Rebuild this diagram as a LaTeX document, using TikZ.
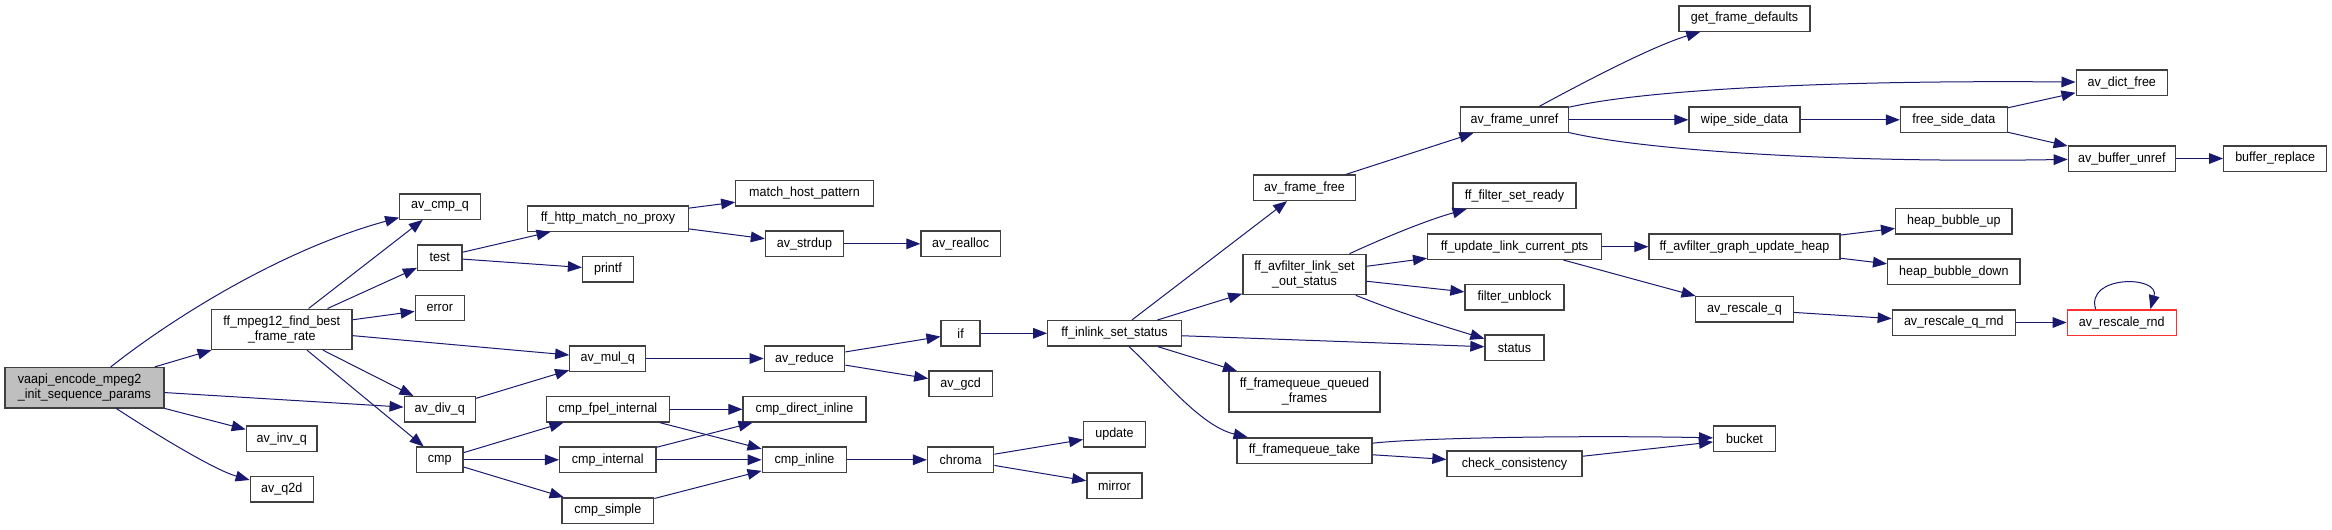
\documentclass[tikz,border=0pt]{standalone}
\usepackage{fontspec}
\setmainfont{Liberation Sans}[FakeStretch=0.94]
\usetikzlibrary{arrows.meta}
\definecolor{edgec}{HTML}{191970}
\definecolor{nodeb}{HTML}{404040}
\definecolor{rootfill}{HTML}{BFBFBF}
\definecolor{hot}{HTML}{FF3030}
\begin{document}
\begin{tikzpicture}[x=0.75pt,y=-0.75pt,
  fn/.style={draw=nodeb,line width=1pt,fill=white,inner sep=0pt,minimum height=19pt,
    font=\fontsize{10}{11.25}\selectfont,align=center},
  two/.style={minimum height=30.2pt},
  w/.style={minimum width=#1*0.75pt},
  edge/.style={draw=edgec,line width=0.75pt,-{Triangle[length=10.5pt,width=8pt]}}]
\fill[white] (0,0) rectangle (2332,529);
\useasboundingbox (0,0) rectangle (2332,529);
% rank 0-1
\node[fn,w=159,two,fill=rootfill,align=left] (vaapi) at (84.5,387.7) {vaapi\_encode\_mpeg2\\\_init\_sequence\_params};
\node[fn,w=140.3,two] (mpeg12) at (281.8,329.3) {ff\_mpeg12\_find\_best\\\_frame\_rate};
\node[fn,w=70.7] (invq) at (281.7,438.7) {av\_inv\_q};
\node[fn,w=63] (q2d) at (281.8,489.3) {av\_q2d};
% rank 2
\node[fn,w=80.4] (cmpq) at (440,206.5) {av\_cmp\_q};
\node[fn,w=44.4] (test) at (439.8,257.5) {test};
\node[fn,w=49] (error) at (439.8,308) {error};
\node[fn,w=71.2] (divq) at (439.8,409.3) {av\_div\_q};
\node[fn,w=46.6] (cmp) at (439.8,459.8) {cmp};
% rank 3
\node[fn,w=160.8] (http) at (608,218.5) {ff\_http\_match\_no\_proxy};
\node[fn,w=50.9] (printf) at (608,269.3) {printf};
\node[fn,w=76] (mulq) at (607.8,358.5) {av\_mul\_q};
\node[fn,w=122.8] (fpel) at (607.8,409.3) {cmp\_fpel\_internal};
\node[fn,w=96.4] (cmpint) at (607.8,459.8) {cmp\_internal};
\node[fn,w=91.8] (cmpsimple) at (607.8,510.5) {cmp\_simple};
% rank 4
\node[fn,w=137.4] (mhp) at (804.5,193.3) {match\_host\_pattern};
\node[fn,w=78] (strdup) at (804.5,243.8) {av\_strdup};
\node[fn,w=80.4] (reduce) at (804.5,358.5) {av\_reduce};
\node[fn,w=122.8] (direct) at (804.5,409.3) {cmp\_direct\_inline};
\node[fn,w=84.6] (cmpinline) at (804.5,459.8) {cmp\_inline};
% rank 5
\node[fn,w=79.3] (realloc) at (960.6,243.8) {av\_realloc};
\node[fn,w=39] (if) at (960.6,333.3) {if};
\node[fn,w=63.5] (gcd) at (960.6,383.8) {av\_gcd};
\node[fn,w=66.2] (chroma) at (960.6,459.8) {chroma};
% rank 6
\node[fn,w=133.6] (inlink) at (1114.5,333.3) {ff\_inlink\_set\_status};
\node[fn,w=61.6] (update) at (1114.5,434.3) {update};
\node[fn,w=55.3] (mirror) at (1114.5,485.5) {mirror};
% rank 7
\node[fn,w=102] (framefree) at (1304.5,187.8) {av\_frame\_free};
\node[fn,w=123.3,two] (linkset) at (1304.5,274.5) {ff\_avfilter\_link\_set\\\_out\_status};
\node[fn,w=151,two] (queued) at (1304.5,391.8) {ff\_framequeue\_queued\\\_frames};
\node[fn,w=135.3] (take) at (1304.5,450.5) {ff\_framequeue\_take};
% rank 8
\node[fn,w=108] (unref) at (1514.5,119.8) {av\_frame\_unref};
\node[fn,w=123] (ready) at (1514.5,195.8) {ff\_filter\_set\_ready};
\node[fn,w=173.7] (updpts) at (1514.5,246.7) {ff\_update\_link\_current\_pts};
\node[fn,w=99] (unblock) at (1514.5,297.3) {filter\_unblock};
\node[fn,w=59] (status) at (1514.5,347.8) {status};
\node[fn,w=135] (check) at (1514.5,463.7) {check\_consistency};
% rank 9
\node[fn,w=131] (getdef) at (1744.5,18.5) {get\_frame\_defaults};
\node[fn,w=111] (wipe) at (1744.5,119.8) {wipe\_side\_data};
\node[fn,w=191] (heap) at (1744.5,246.7) {ff\_avfilter\_graph\_update\_heap};
\node[fn,w=97.7] (rescaleq) at (1744.5,309.3) {av\_rescale\_q};
\node[fn,w=61.7] (bucket) at (1744.5,438.5) {bucket};
% rank 10
\node[fn,w=106.7] (freeside) at (1953.8,119.8) {free\_side\_data};
\node[fn,w=116.3] (hup) at (1953.8,221.3) {heap\_bubble\_up};
\node[fn,w=132.3] (hdown) at (1953.8,271.8) {heap\_bubble\_down};
\node[fn,w=123] (rqrnd) at (1953.8,322.5) {av\_rescale\_q\_rnd};
% rank 11-12
\node[fn,w=91.3] (dictfree) at (2121.8,82.5) {av\_dict\_free};
\node[fn,w=107] (bufunref) at (2121.8,158.5) {av\_buffer\_unref};
\node[fn,w=109,draw=hot] (rrnd) at (2121.8,322.5) {av\_rescale\_rnd};
\node[fn,w=103] (bufrep) at (2275.2,158.5) {buffer\_replace};

% edges
\draw[edge] (vaapi) .. controls (170,320) and (280,250) .. (cmpq);
\draw[edge] (vaapi) -- (mpeg12);
\draw[edge] (vaapi) -- (divq);
\draw[edge] (vaapi) -- (invq);
\draw[edge] (vaapi) .. controls (160,437) and (215,470) .. (q2d);
\draw[edge] (mpeg12) -- (cmpq);
\draw[edge] (mpeg12) -- (test);
\draw[edge] (mpeg12) -- (error);
\draw[edge] (mpeg12) -- (mulq);
\draw[edge] (mpeg12) -- (divq);
\draw[edge] (mpeg12) -- (cmp);
\draw[edge] (test) -- (http);
\draw[edge] (test) -- (printf);
\draw[edge] (http) -- (mhp);
\draw[edge] (http) -- (strdup);
\draw[edge] (strdup) -- (realloc);
\draw[edge] (divq) -- (mulq);
\draw[edge] (mulq) -- (reduce);
\draw[edge] (reduce) -- (if);
\draw[edge] (reduce) -- (gcd);
\draw[edge] (if) -- (inlink);
\draw[edge] (cmp) -- (fpel);
\draw[edge] (cmp) -- (cmpint);
\draw[edge] (cmp) -- (cmpsimple);
\draw[edge] (fpel) -- (direct);
\draw[edge] (fpel) -- (cmpinline);
\draw[edge] (cmpint) -- (direct);
\draw[edge] (cmpint) -- (cmpinline);
\draw[edge] (cmpsimple) -- (cmpinline);
\draw[edge] (cmpinline) -- (chroma);
\draw[edge] (chroma) -- (update);
\draw[edge] (chroma) -- (mirror);
\draw[edge] (inlink) -- (framefree);
\draw[edge] (inlink) -- (linkset);
\draw[edge] (inlink) -- (status);
\draw[edge] (inlink) -- (queued);
\draw[edge] (inlink) .. controls (1160,375) and (1200,426) .. (take);
\draw[edge] (framefree) -- (unref);
\draw[edge] (unref) .. controls (1575,87) and (1650,47) .. (getdef);
\draw[edge] (unref) .. controls (1650,88.5) and (1850,80) .. (dictfree);
\draw[edge] (unref) -- (wipe);
\draw[edge] (unref) .. controls (1650,151.5) and (1850,163) .. (bufunref);
\draw[edge] (wipe) -- (freeside);
\draw[edge] (freeside) -- (dictfree);
\draw[edge] (freeside) -- (bufunref);
\draw[edge] (bufunref) -- (bufrep);
\draw[edge] (linkset) .. controls (1390,235) and (1430,219.3) .. (ready);
\draw[edge] (linkset) -- (updpts);
\draw[edge] (linkset) -- (unblock);
\draw[edge] (linkset) .. controls (1395,311.2) and (1440,325.2) .. (status);
\draw[edge] (updpts) -- (heap);
\draw[edge] (updpts) -- (rescaleq);
\draw[edge] (heap) -- (hup);
\draw[edge] (heap) -- (hdown);
\draw[edge] (rescaleq) -- (rqrnd);
\draw[edge] (rqrnd) -- (rrnd);
\draw[edge] (rrnd.153) .. controls (2085,275) and (2160,275) .. (rrnd.25);
\draw[edge] (take) .. controls (1430,437) and (1600,435.5) .. (bucket);
\draw[edge] (take) -- (check);
\draw[edge] (check) -- (bucket);
\end{tikzpicture}
\end{document}
